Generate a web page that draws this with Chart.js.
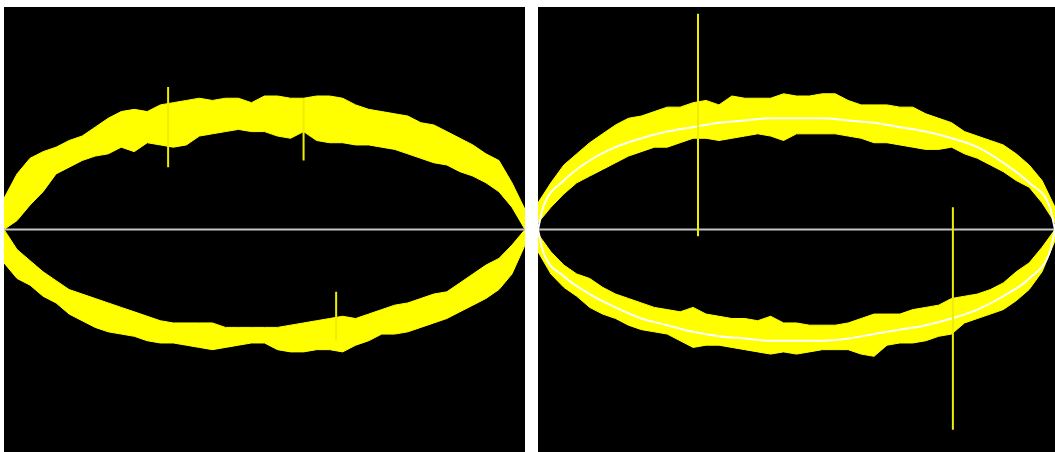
<!DOCTYPE html>
<html>
<head>
<meta charset="utf-8">
<script src="https://cdn.jsdelivr.net/npm/chart.js@4.4.1/dist/chart.umd.min.js"></script>
<style>
  body { margin: 0; background: #fff; width: 1055px; height: 452px; overflow: hidden; position: relative; }
  canvas { position: absolute; background: #000; }
  #leftScope { left: 4px; top: 7px; }
  #rightScope { left: 538px; top: 7px; }
</style>
</head>
<body>
<canvas id="leftScope" width="521" height="445"></canvas>
<canvas id="rightScope" width="517" height="445"></canvas>
<script>
// phase grid shared by both traces (x = cos of phase)
const phase = [-1, -0.95, -0.9, -0.85, -0.8, -0.75, -0.7, -0.65, -0.6, -0.55,
  -0.5, -0.45, -0.4, -0.35, -0.3, -0.25, -0.2, -0.15, -0.1, -0.05,
  0, 0.05, 0.1, 0.15, 0.2, 0.25, 0.3, 0.35, 0.4, 0.45,
  0.5, 0.55, 0.6, 0.65, 0.7, 0.75, 0.8, 0.85, 0.9, 0.95, 1];

// left trace: noise envelope, upper and lower halves
const leftTopOuter = [0.14, 0.25, 0.32, 0.35, 0.37, 0.40, 0.42, 0.46, 0.50, 0.53,
  0.54, 0.53, 0.56, 0.57, 0.58, 0.59, 0.58, 0.59, 0.59, 0.57,
  0.60, 0.60, 0.59, 0.59, 0.60, 0.60, 0.59, 0.56, 0.54, 0.53,
  0.52, 0.51, 0.48, 0.47, 0.44, 0.41, 0.38, 0.34, 0.31, 0.21, 0.09];
const leftTopInner = [0.00, 0.04, 0.11, 0.17, 0.25, 0.28, 0.31, 0.33, 0.34, 0.37,
  0.35, 0.39, 0.38, 0.37, 0.38, 0.42, 0.43, 0.44, 0.45, 0.44,
  0.44, 0.42, 0.41, 0.44, 0.40, 0.39, 0.39, 0.38, 0.38, 0.37,
  0.36, 0.34, 0.32, 0.30, 0.29, 0.26, 0.24, 0.21, 0.17, 0.10, 0.00];
const leftBottomInner = [0.00, -0.09, -0.14, -0.19, -0.23, -0.27, -0.29, -0.31, -0.33, -0.35,
  -0.37, -0.39, -0.41, -0.42, -0.42, -0.42, -0.42, -0.44, -0.44, -0.44,
  -0.44, -0.44, -0.43, -0.42, -0.41, -0.40, -0.39, -0.40, -0.38, -0.36,
  -0.34, -0.33, -0.31, -0.29, -0.28, -0.24, -0.20, -0.16, -0.13, -0.07, 0.00];
const leftBottomOuter = [-0.15, -0.22, -0.25, -0.30, -0.33, -0.38, -0.41, -0.44, -0.46, -0.47,
  -0.48, -0.50, -0.51, -0.51, -0.52, -0.53, -0.54, -0.53, -0.52, -0.51,
  -0.51, -0.54, -0.55, -0.55, -0.54, -0.54, -0.55, -0.52, -0.50, -0.47,
  -0.47, -0.46, -0.44, -0.42, -0.40, -0.37, -0.34, -0.31, -0.27, -0.20, -0.07];

// right trace: noise envelope
const rightTopOuter = [0.12, 0.21, 0.29, 0.34, 0.39, 0.43, 0.47, 0.50, 0.51, 0.53,
  0.55, 0.55, 0.57, 0.58, 0.56, 0.60, 0.59, 0.59, 0.59, 0.61,
  0.60, 0.60, 0.61, 0.61, 0.58, 0.56, 0.56, 0.56, 0.55, 0.55,
  0.52, 0.50, 0.48, 0.44, 0.42, 0.40, 0.38, 0.34, 0.29, 0.22, 0.10];
const rightTopInner = [0.03, 0.10, 0.16, 0.21, 0.24, 0.27, 0.30, 0.33, 0.35, 0.37,
  0.37, 0.39, 0.41, 0.41, 0.40, 0.41, 0.42, 0.43, 0.42, 0.40,
  0.43, 0.43, 0.43, 0.43, 0.42, 0.41, 0.39, 0.39, 0.38, 0.37,
  0.36, 0.36, 0.37, 0.34, 0.32, 0.29, 0.26, 0.22, 0.19, 0.12, 0.03];
const rightBottomInner = [-0.02, -0.10, -0.16, -0.20, -0.22, -0.26, -0.29, -0.31, -0.33, -0.35,
  -0.36, -0.37, -0.35, -0.38, -0.39, -0.40, -0.40, -0.41, -0.39, -0.42,
  -0.42, -0.43, -0.43, -0.43, -0.42, -0.40, -0.38, -0.38, -0.38, -0.36,
  -0.35, -0.34, -0.31, -0.30, -0.29, -0.27, -0.24, -0.19, -0.15, -0.08, 0.00];
const rightBottomOuter = [-0.10, -0.20, -0.26, -0.30, -0.35, -0.38, -0.40, -0.43, -0.45, -0.46,
  -0.47, -0.50, -0.53, -0.52, -0.52, -0.53, -0.54, -0.55, -0.56, -0.55,
  -0.56, -0.55, -0.54, -0.54, -0.54, -0.56, -0.57, -0.52, -0.51, -0.51,
  -0.50, -0.48, -0.47, -0.42, -0.40, -0.38, -0.36, -0.32, -0.27, -0.19, -0.05];

// clean fitted trace on the right panel
const fitX = [-1, -0.98, -0.9, -0.8, -0.7, -0.6, -0.5, -0.4, -0.3, -0.2, -0.1,
  0, 0.1, 0.2, 0.3, 0.4, 0.5, 0.6, 0.7, 0.8, 0.9, 0.98, 1];
const fitUpper = [0, 0.10, 0.22, 0.31, 0.37, 0.41, 0.44, 0.46, 0.48, 0.49, 0.50,
  0.50, 0.50, 0.49, 0.48, 0.46, 0.44, 0.41, 0.37, 0.30, 0.21, 0.10, 0];
const fitLower = [0, -0.10, -0.21, -0.29, -0.35, -0.40, -0.43, -0.46, -0.48, -0.49, -0.50,
  -0.50, -0.50, -0.49, -0.47, -0.45, -0.43, -0.40, -0.36, -0.30, -0.22, -0.10, 0];

// glitch spikes: position, top, bottom
const leftSpikeX = [-0.37, 0.15, 0.275];
const leftSpikeTop = [0.64, 0.59, -0.28];
const leftSpikeBottom = [0.28, 0.31, -0.50];
const rightSpikeX = [-0.381, 0.605];
const rightSpikeTop = [0.97, 0.10];
const rightSpikeBottom = [-0.03, -0.90];

const YELLOW = "#ffff00";

function pts(xs, ys) {
  return xs.map((x, i) => ({ x: x, y: ys[i] }));
}

function band(outer, inner) {
  const base = {
    borderColor: YELLOW,
    backgroundColor: YELLOW,
    borderWidth: 1,
    pointRadius: 0,
    tension: 0,
  };
  return [
    Object.assign({ data: pts(phase, outer), fill: "+1" }, base),
    Object.assign({ data: pts(phase, inner), fill: false }, base),
  ];
}

function drawScope(id, envelope, spikes, fit) {
  const datasets = [];

  spikes.x.forEach((x, i) => {
    datasets.push({
      data: [{ x: x, y: spikes.top[i] }, { x: x, y: spikes.bottom[i] }],
      borderColor: "#eeee00",
      borderWidth: 2,
      pointRadius: 0,
      fill: false,
    });
  });

  if (fit) {
    [fit.upper, fit.lower].forEach((ys) => {
      datasets.push({
        data: pts(fit.x, ys),
        borderColor: "#ffffff",
        borderWidth: 2,
        pointRadius: 0,
        cubicInterpolationMode: "monotone",
        fill: false,
      });
    });
  }

  datasets.push({
    data: [{ x: -1, y: 0 }, { x: 1, y: 0 }],
    borderColor: "#c4c4c4",
    borderWidth: 2,
    pointRadius: 0,
    fill: false,
  });

  datasets.push(...band(envelope[0], envelope[1]));
  datasets.push(...band(envelope[2], envelope[3]));

  new Chart(document.getElementById(id), {
    type: "line",
    data: { datasets: datasets },
    options: {
      responsive: false,
      animation: false,
      events: [],
      layout: { padding: 0 },
      plugins: { legend: { display: false }, tooltip: { enabled: false } },
      scales: {
        x: { type: "linear", min: -1, max: 1, display: false },
        y: { min: -1, max: 1, display: false },
      },
    },
  });
}

drawScope("leftScope",
  [leftTopOuter, leftTopInner, leftBottomOuter, leftBottomInner],
  { x: leftSpikeX, top: leftSpikeTop, bottom: leftSpikeBottom },
  null);

drawScope("rightScope",
  [rightTopOuter, rightTopInner, rightBottomOuter, rightBottomInner],
  { x: rightSpikeX, top: rightSpikeTop, bottom: rightSpikeBottom },
  { x: fitX, upper: fitUpper, lower: fitLower });
</script>
</body>
</html>
